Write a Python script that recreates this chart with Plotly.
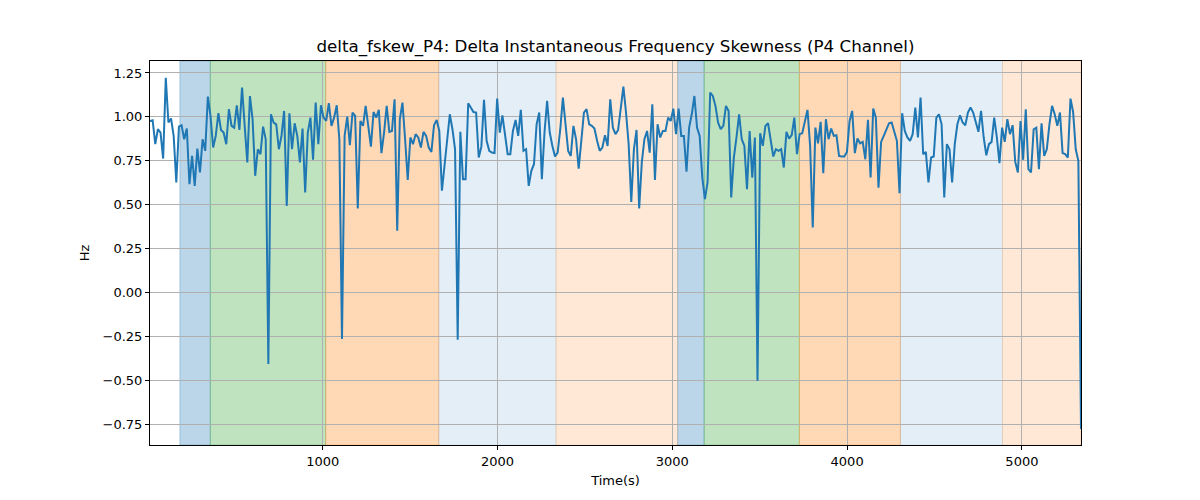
import numpy as np
import plotly.graph_objects as go

title = "delta_fskew_P4: Delta Instantaneous Frequency Skewness (P4 Channel)"

values = [
    0.977, 0.981, 0.845, 0.930, 0.911, 0.763, 1.222, 0.968, 0.991, 0.892,
    0.627, 0.945, 0.953, 0.873, 0.934, 0.617, 0.778, 0.608, 0.820, 0.684,
    0.873, 0.807, 1.116, 1.006, 0.826, 0.892, 1.021, 0.926, 0.911, 0.845,
    1.044, 0.949, 0.939, 1.066, 0.926, 1.167, 0.949, 0.741, 1.119, 0.987,
    0.665, 0.816, 0.788, 0.945, 0.873, -0.405, 1.015, 0.968, 0.958, 0.816,
    0.892, 1.034, 0.494, 1.021, 0.816, 0.964, 0.892, 0.741, 0.934, 0.570,
    0.911,
    0.996, 0.756, 1.081, 0.845, 1.066, 0.996, 0.977, 1.078, 0.949, 0.996,
    1.066, 0.873, -0.263, 0.892, 1.002, 0.839, 1.025, 1.006, 0.479, 0.977,
    0.949, 1.063, 0.930, 0.831, 1.028, 0.996, 1.040, 0.794, 0.911, 1.063,
    0.915, 0.920, 1.100, 0.352, 0.987, 1.081, 0.873, 0.642, 0.883, 0.845,
    0.902, 0.883, 0.826, 0.915, 0.892, 0.826, 0.801, 0.953, 0.983, 0.920,
    0.580, 0.722, 0.873, 1.015, 0.930, 0.816, -0.267,
    0.915, 0.646, 0.646, 1.078, 1.053, 1.028, 1.025, 0.769, 0.831, 1.097,
    0.864, 0.807, 0.797, 0.794, 1.104, 0.911, 1.009, 0.892, 0.788, 0.788,
    0.920, 0.983, 0.892, 1.040, 0.807, 0.816, 0.608, 0.693, 0.731, 0.958,
    1.025, 0.646, 0.911, 1.091, 0.911, 0.835, 0.775, 0.797, 0.930, 1.110,
    0.949, 0.807, 0.778, 0.949, 0.873, 0.706, 0.864, 1.025, 1.044, 0.958,
    0.949, 0.934, 0.864, 0.807, 0.826, 0.896, 0.835, 1.100,
    0.939, 0.902, 0.926, 1.063, 1.172, 1.025, 0.845, 0.517, 0.816, 0.926,
    0.479, 0.741, 0.873, 0.920, 0.797, 1.072, 0.642, 0.958, 0.883, 0.920,
    0.920, 0.996, 0.977, 1.047, 0.902, 1.047, 0.892, 0.892, 0.688, 0.939,
    1.015, 1.119, 0.939, 0.892, 0.655, 0.532, 0.627, 1.138, 1.119, 1.063,
    0.968, 0.930, 0.949, 1.063, 1.034, 0.542, 0.769, 0.883, 1.015, 0.873,
    0.835, 0.589, 0.920, 0.655, 0.883, -0.500, 0.907,
    0.835, 0.949, 0.964, 0.873, 0.775, 0.816, 0.807, 0.816, 0.712, 0.915,
    0.877, 0.896, 0.996, 0.788, 0.902, 0.907, 0.977, 1.040, 0.835, 0.371,
    0.939, 0.850, 0.972, 0.680, 0.987, 0.873, 0.934, 0.892, 0.896, 0.778,
    0.775, 0.775, 0.801, 0.977, 1.034, 0.794, 0.877, 0.850, 0.858, 0.759,
    0.983, 0.655, 1.047, 0.996, 0.598, 0.858, 0.892, 0.930, 0.964, 0.968,
    0.920, 0.864, 0.566, 1.021, 0.920, 0.883, 0.864,
    0.902, 1.053, 0.883, 1.110, 0.788, 0.801, 0.627, 0.769, 0.775, 0.996,
    1.015, 0.958, 0.542, 0.845, 0.816, 0.627, 0.845, 0.958, 1.009, 0.968,
    0.953, 1.025, 1.053, 1.025, 0.977, 0.915, 1.034, 0.883, 0.782, 0.845,
    0.858, 0.996, 0.883, 0.737, 0.939, 0.858, 0.987, 0.902, 0.953, 0.744,
    0.684, 0.977, 0.756, 1.044, 0.703, 0.684, 0.930, 0.939, 0.703, 0.964,
    0.778, 0.816, 0.958, 1.063, 1.015, 0.949, 1.025, 0.794, 0.788, 0.769,
    1.104, 1.028, 0.816, 0.750, -0.775,
]

t_start, t_end = 12, 5338
times = np.linspace(t_start, t_end, len(values))

# shaded phases
span_starts = [183, 357, 1017, 1664, 2335, 3031, 3182, 3727, 4305, 4889]
span_ends = [357, 1017, 1664, 2335, 3031, 3182, 3727, 4305, 4889, 5338]
span_colors = [
    "rgba(31,119,180,0.3)", "rgba(44,160,44,0.3)", "rgba(255,127,14,0.3)",
    "rgba(31,119,180,0.12)", "rgba(255,127,14,0.17)",
    "rgba(31,119,180,0.3)", "rgba(44,160,44,0.3)", "rgba(255,127,14,0.3)",
    "rgba(31,119,180,0.12)", "rgba(255,127,14,0.17)",
]

x_ticks = [1000, 2000, 3000, 4000, 5000]
y_ticks = [-0.75, -0.5, -0.25, 0.0, 0.25, 0.5, 0.75, 1.0, 1.25]

fig = go.Figure()
fig.add_trace(go.Scatter(x=times, y=values, mode="lines",
                         line=dict(color="#1f77b4", width=2), showlegend=False))

shapes = []
for s, e, c in zip(span_starts, span_ends, span_colors):
    shapes.append(dict(type="rect", xref="x", yref="paper", x0=s, x1=e, y0=0, y1=1,
                       fillcolor=c, line=dict(width=1, color=c), layer="below"))

font = dict(family="DejaVu Sans", size=13, color="black")
axis_common = dict(showline=True, linecolor="black", linewidth=1, mirror=True,
                   ticks="outside", ticklen=4, tickcolor="black", showgrid=True,
                   gridcolor="#b0b0b0", gridwidth=1, zeroline=False, tickfont=font)

fig.update_layout(
    width=1200, height=500,
    margin=dict(l=142, r=127, t=53, b=63),
    plot_bgcolor="white", paper_bgcolor="white",
    shapes=shapes,
    title=dict(text=title, x=607.5 / 1200, xanchor="center",
               y=1 - 38 / 500, yanchor="middle",
               font=dict(family="DejaVu Sans", size=16.7, color="black")),
    xaxis=dict(range=[t_start, t_end], tickvals=x_ticks,
               title=dict(text="Time(s)", font=font, standoff=8), **axis_common),
    yaxis=dict(range=[-0.866, 1.318], tickvals=y_ticks, tickformat=".2f",
               title=dict(text="Hz", font=font, standoff=10), **axis_common),
)

fig.write_html("out.html")
